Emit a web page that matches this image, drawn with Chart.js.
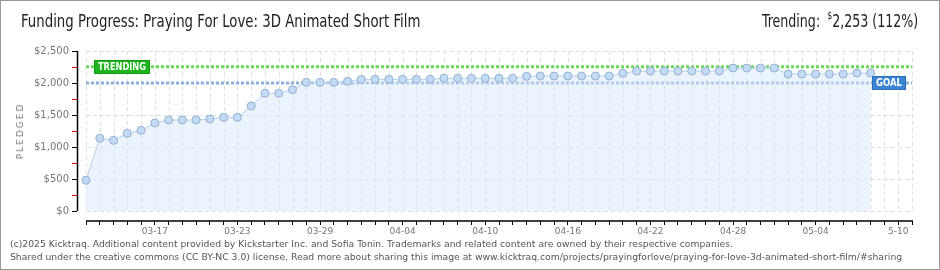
<!DOCTYPE html>
<html>
<head>
<meta charset="utf-8">
<script src="https://cdn.jsdelivr.net/npm/chart.js@4.4.1/dist/chart.umd.min.js"></script>
<style>
  html, body { margin: 0; padding: 0; background: #fff; }
  #wrap { position: relative; width: 940px; height: 270px; box-sizing: border-box; border: 1px solid #999; overflow: hidden; }
  #chart { position: absolute; left: 0; top: 0; }
  .title { position: absolute; left: 20px; top: 10px; font: 17px "DejaVu Sans Condensed", sans-serif; color: #222; transform-origin: 0 0; white-space: nowrap; }
  .trend { position: absolute; right: 21px; top: 10px; font: 17px "DejaVu Sans Condensed", sans-serif; color: #222; transform-origin: 100% 0; white-space: nowrap; }
  .trend sup { font-size: 10px; position: relative; top: -1px; margin-left: 4px; }
  .foot { position: absolute; left: 9px; top: 236px; font: 9.25px "DejaVu Sans", sans-serif; color: #555; line-height: 13px; white-space: nowrap; }
  .ylab { position: absolute; left: 14px; top: 130px; transform-origin: 0 0; transform: rotate(-90deg) translate(-50%, 0); font: 9px "DejaVu Sans", sans-serif; color: #777; letter-spacing: 2px; }
</style>
</head>
<body>
<div id="wrap">
  <canvas id="chart" width="940" height="270"></canvas>
  <div class="title" id="title">Funding Progress: Praying For Love: 3D Animated Short Film</div>
  <div class="trend" id="trend">Trending: <sup>$</sup>2,253 (112%)</div>
  <div class="ylab">PLEDGED</div>
  <div class="foot">(c)2025 Kicktraq. Additional content provided by Kickstarter Inc. and Sofia Tonin. Trademarks and related content are owned by their respective companies.<br>Shared under the creative commons (CC BY-NC 3.0) license. Read more about sharing this image at www.kicktraq.com/projects/prayingforlove/praying-for-love-3d-animated-short-film/#sharing</div>
</div>
<script>
// daily pledged totals, first point is 03-12
const pledged = [480, 1136, 1104, 1214, 1260, 1375, 1422, 1422, 1422, 1437,
  1464, 1464, 1640, 1839, 1839, 1896, 2010, 2010, 2010, 2026,
  2057, 2057, 2057, 2057, 2057, 2057, 2073, 2073, 2073, 2073,
  2073, 2073, 2104, 2109, 2109, 2109, 2109, 2109, 2109, 2151,
  2187, 2187, 2187, 2187, 2187, 2187, 2187, 2234, 2234, 2234,
  2234, 2140, 2140, 2140, 2140, 2140, 2156, 2156];
const goal = 2000;
const trending = 2253;
const lastDay = 60; // 05-11
const tickDays = [5, 11, 17, 23, 29, 35, 41, 47, 53, 59];
const tickLabels = ['03-17', '03-23', '03-29', '04-04', '04-10', '04-16', '04-22', '04-28', '05-04', '5-10'];
const yTicks = [0, 250, 500, 750, 1000, 1250, 1500, 1750, 2000, 2250, 2500];

// squeeze header text to the narrow look of the original
const t = document.getElementById('title');
t.style.transform = 'scaleX(' + (399 / t.offsetWidth) + ')';
const tr = document.getElementById('trend');
tr.style.transform = 'scaleX(' + (156 / tr.offsetWidth) + ')';

const ctx = document.getElementById('chart').getContext('2d');

function box(c, x, y, w, h, fill, edge, text) {
  c.fillStyle = fill;
  c.fillRect(x, y, w, h);
  c.strokeStyle = edge;
  c.lineWidth = 1;
  c.setLineDash([]);
  c.strokeRect(x + 0.5, y + 0.5, w - 1, h - 1);
  c.fillStyle = '#fff';
  c.font = 'bold 10.5px "DejaVu Sans Condensed", sans-serif';
  c.textAlign = 'left';
  c.textBaseline = 'middle';
  c.fillText(text, x + 4, y + h / 2 + 0.5, w - 8);
}

const frame = {
  id: 'frame',
  beforeDatasetsDraw(chart) {
    const c = chart.ctx, x = chart.scales.x, y = chart.scales.y;
    const top = y.getPixelForValue(2500), zero = y.getPixelForValue(0);
    const x0 = x.getPixelForValue(0), x1 = x.getPixelForValue(lastDay);
    c.save();
    c.strokeStyle = '#e0e0e0';
    c.lineWidth = 1;
    c.setLineDash([4, 3]);
    for (let i = 0; i <= lastDay; i++) {
      const px = Math.round(x.getPixelForValue(i)) + 0.5;
      c.beginPath(); c.moveTo(px, top); c.lineTo(px, zero); c.stroke();
    }
    for (let v = 0; v <= 2500; v += 500) {
      const py = Math.round(y.getPixelForValue(v)) + 0.5;
      c.beginPath(); c.moveTo(x0, py); c.lineTo(x1, py); c.stroke();
    }
    c.setLineDash([]);
    c.strokeStyle = '#000';
    c.lineWidth = 1.5;
    const ax = chart.chartArea.left + 0.5;
    c.beginPath(); c.moveTo(ax, top); c.lineTo(ax, zero); c.stroke();
    const ay = chart.chartArea.bottom;
    c.beginPath(); c.moveTo(x0, ay); c.lineTo(x1 + 1, ay); c.stroke();
    c.restore();
  },
  afterDatasetsDraw(chart) {
    const c = chart.ctx, x = chart.scales.x, y = chart.scales.y;
    c.save();
    const ty = Math.round(y.getPixelForValue(trending));
    box(c, x.getPixelForValue(0) + 8, ty - 7, 56, 14, '#1db41d', '#139a13', 'TRENDING');
    const gy = Math.round(y.getPixelForValue(goal));
    box(c, x.getPixelForValue(lastDay) - 40, gy - 7, 34, 14, '#3b86d4', '#2c6fb8', 'GOAL');
    c.restore();
  }
};

const chart = new Chart(ctx, {
  type: 'line',
  data: {
    datasets: [{
      label: 'Pledged',
      data: pledged.map((v, i) => ({ x: i, y: v })),
      borderColor: '#b4d2f0',
      borderWidth: 1,
      backgroundColor: 'rgba(215, 232, 250, 0.5)',
      fill: 'origin',
      tension: 0,
      pointRadius: 4,
      pointBackgroundColor: '#c3dcf6',
      pointBorderColor: '#93afd0',
      pointBorderWidth: 1,
      order: 1
    }, {
      label: 'Goal',
      data: [{ x: 0, y: goal }, { x: lastDay, y: goal }],
      borderColor: '#8eb0da',
      borderWidth: 3,
      borderDash: [3, 2],
      pointRadius: 0,
      fill: false,
      order: 2
    }, {
      label: 'Trending',
      data: [{ x: 0, y: trending }, { x: lastDay, y: trending }],
      borderColor: '#6ada5a',
      borderWidth: 3,
      borderDash: [3, 2],
      pointRadius: 0,
      fill: false,
      order: 3
    }]
  },
  options: {
    responsive: false,
    animation: false,
    events: [],
    layout: { padding: { top: 50, right: 29, left: 0, bottom: 0 } },
    plugins: { legend: { display: false }, tooltip: { enabled: false }, title: { display: false } },
    scales: {
      x: {
        type: 'linear',
        min: -0.654,
        max: lastDay,
        afterBuildTicks: s => { s.ticks = []; for (let i = 0; i <= lastDay; i++) s.ticks.push({ value: i }); },
        afterFit: s => { s.height = 50; },
        border: { display: false },
        grid: { drawOnChartArea: false, drawTicks: true, tickLength: 4, color: '#000', lineWidth: 1 },
        ticks: {
          autoSkip: false, maxRotation: 0, padding: 1,
          color: '#777',
          font: { family: 'DejaVu Sans', size: 9 },
          callback: v => { const k = tickDays.indexOf(v); return k < 0 ? '' : tickLabels[k]; }
        }
      },
      y: {
        min: -156.25,
        max: 2500,
        afterBuildTicks: s => { s.ticks = yTicks.map(v => ({ value: v })); },
        afterFit: s => { s.width = 76; },
        border: { display: false },
        grid: {
          drawOnChartArea: false, drawTicks: true, tickLength: 5, lineWidth: 1,
          color: c => (c.tick && c.tick.value % 500) ? '#e00' : '#000'
        },
        ticks: {
          padding: 3,
          color: '#777',
          font: { family: 'DejaVu Sans', size: 10 },
          callback: v => v % 500 ? '' : '$' + v.toLocaleString('en-US')
        }
      }
    }
  },
  plugins: [frame]
});
</script>
</body>
</html>
